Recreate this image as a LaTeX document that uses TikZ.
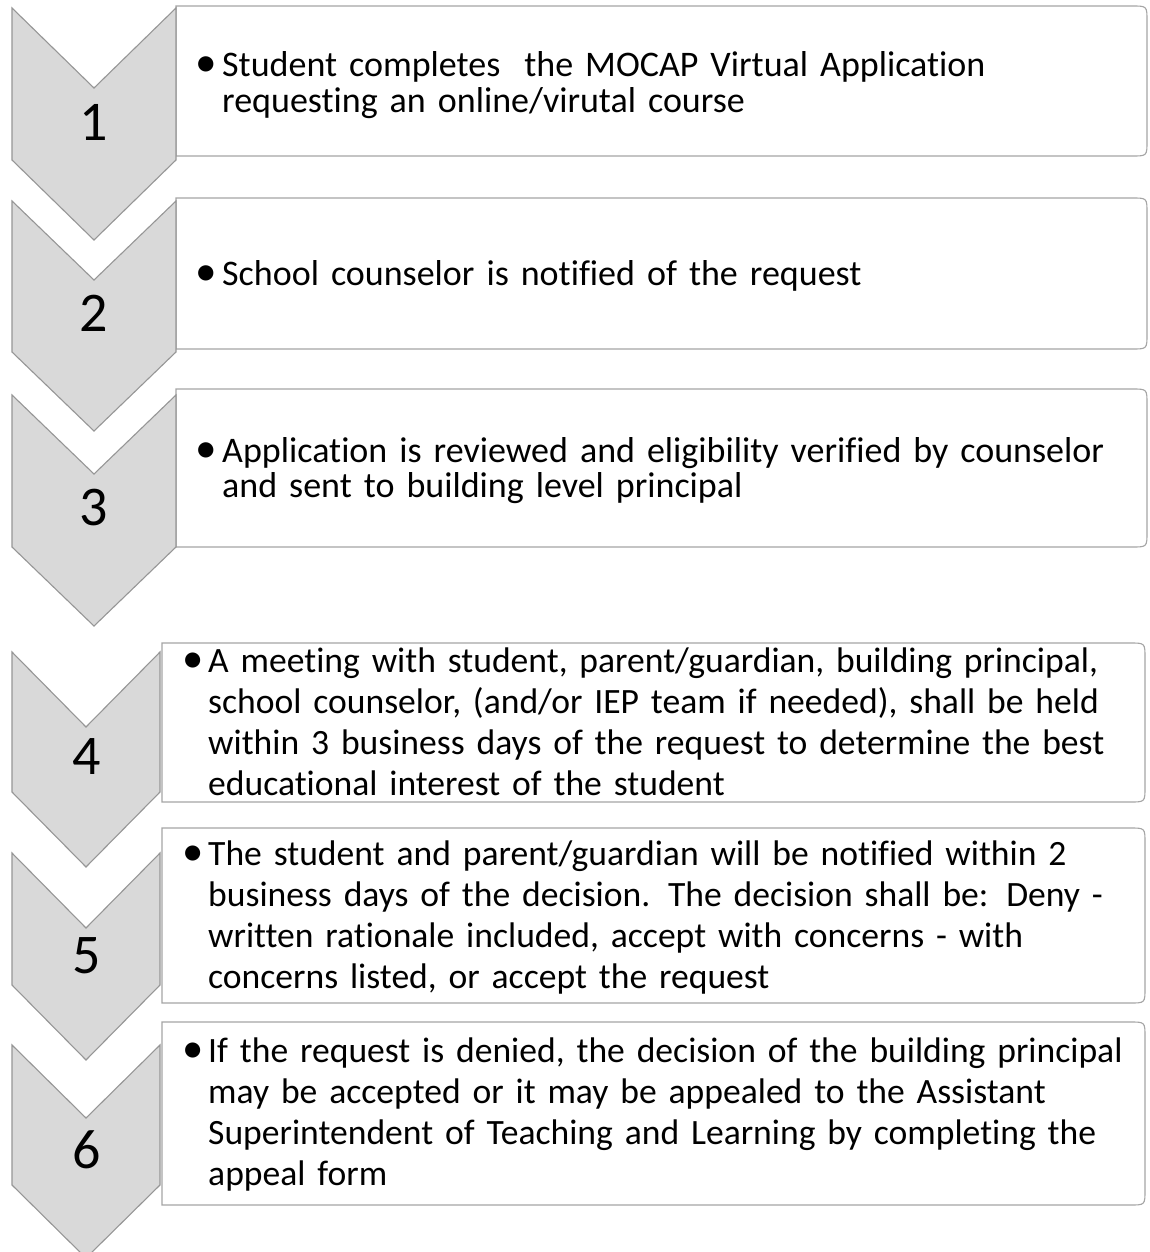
\documentclass[tikz,border=0pt]{standalone}
\usepackage{graphicx}
\usepackage{fontspec}
\setmainfont{Carlito}[Ligatures=NoCommon]
\definecolor{chevfill}{RGB}{217,217,217}
\definecolor{chevline}{RGB}{150,150,150}
\definecolor{boxline}{RGB}{165,165,165}
\newcommand\mychev[5]{% xl, xr, top, depth, bottom
  \draw[chev] (#1,#3) -- ({(#1+#2)/2},{#3+#4}) -- (#2,#3) -- (#2,#5)
    -- ({(#1+#2)/2},{#5+#4}) -- (#1,#5) -- cycle;}
\newcommand\myrbox[4]{% xl, xr, top, bottom
  \draw[boxr] (#1,#3) -- ({#2-15},#3) .. controls (#2,#3) .. (#2,{#3+15})
    -- (#2,{#4-15}) .. controls (#2,#4) .. ({#2-15},#4) -- (#1,#4) -- cycle;}
\tikzset{
  chev/.style={fill=chevfill, draw=chevline, line width=1.1pt, line join=miter},
  boxr/.style={draw=boxline, line width=1.1pt, fill=white},
  num/.style={inner sep=0pt, font=\fontsize{56}{60}\selectfont},
  toptxt/.style={anchor=base west, inner sep=0pt, text width=1000pt, align=left,
    font=\fontsize{36}{35.5}\selectfont},
  bottxt/.style={anchor=base west, inner sep=0pt, text width=1000pt, align=left,
    font=\fontsize{35.6}{41}\selectfont},
}
\newcommand\topbul{\llap{\hbox to 27pt{\scalebox{1.2}{•}\hss}}}
\newcommand\botbul{\llap{\hbox to 26pt{\scalebox{1.2}{•}\hss}}}
\begin{document}
\lineskiplimit=-100pt
\begin{tikzpicture}[x=1pt,y=-1pt]
\useasboundingbox (0,0) rectangle (1149,1252);
\fill[white] (0,0) rectangle (1149,1252);

% boxes
\myrbox{176}{1147}{6}{156}
\myrbox{176}{1147}{198}{349}
\myrbox{176}{1147}{389}{547}
\myrbox{162}{1145}{643}{802}
\myrbox{162}{1145}{828}{1003}
\myrbox{162}{1145}{1022}{1205}

% chevrons
\mychev{12}{176}{8}{80}{160}
\mychev{12}{176}{201}{79}{352}
\mychev{12}{176}{395}{79}{547}
\mychev{12}{160}{652}{75}{792}
\mychev{12}{160}{853}{75}{985}
\mychev{12}{160}{1045}{73}{1185}

% numbers
\node[num] (n1) at (94,122) {1};
\node[num] (n2) at (94,313) {2};
\node[num] (n3) at (94,508) {3};
\node[num] (n4) at (87,757) {4};
\node[num] (n5) at (87,956) {5};
\node[num] (n6) at (87,1150) {6};

% texts
\node[toptxt] (t1) at (222,77) {\topbul Student completes\ \ the MOCAP Virtual Application\\requesting an online/virutal course};
\node[toptxt] (t2) at (222,285) {\topbul School counselor is notified of the request};
\node[toptxt] (t3) at (222,462) {\topbul Application is reviewed and eligibility verified by counselor\\and sent to building level principal};
\node[bottxt] (t4) at (208,672) {\botbul A meeting with student, parent/guardian, building principal,\\school counselor, (and/or IEP team if needed), shall be held\\within 3 business days of the request to determine the best\\educational interest of the student};
\node[bottxt] (t5) at (208,865) {\botbul The student and parent/guardian will be notified within 2\\business days of the decision. The decision shall be: Deny -\\written rationale included, accept with concerns - with\\concerns listed, or accept the request};
\node[bottxt] (t6) at (208,1062) {\botbul If the request is denied, the decision of the building principal\\may be accepted or it may be appealed to the Assistant\\Superintendent of Teaching and Learning by completing the\\appeal form};
\end{tikzpicture}
\end{document}
